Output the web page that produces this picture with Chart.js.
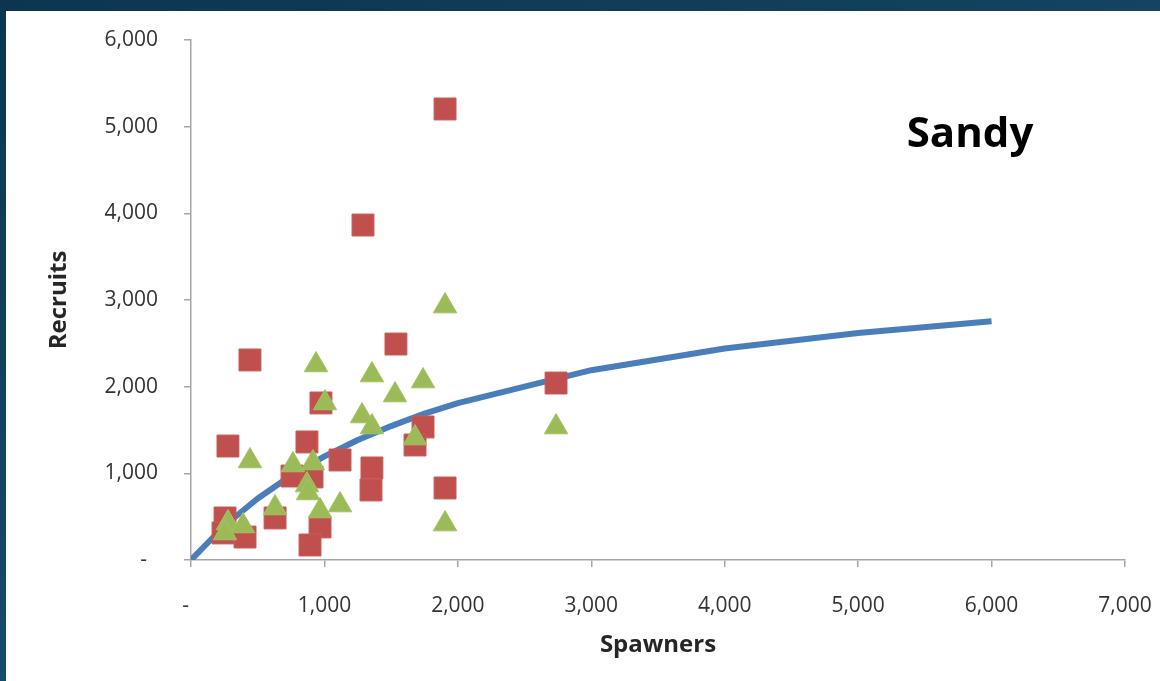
<!DOCTYPE html>
<html>
<head>
<meta charset="utf-8">
<script src="https://cdn.jsdelivr.net/npm/chart.js@4/dist/chart.umd.min.js"></script>
<style>
  html, body { margin: 0; padding: 0; }
  body {
    width: 1160px; height: 681px; overflow: hidden;
    background: linear-gradient(160deg, #0c3550 0%, #164a68 55%, #1b5a7c 100%);
    position: relative;
  }
  #panel {
    position: absolute; left: 6px; top: 11px; width: 1154px; height: 670px;
    background: #ffffff;
  }
  canvas { display: block; }
</style>
</head>
<body>
<div id="panel"><canvas id="chart" width="1154" height="670"></canvas></div>
<script>
// Fitted spawner-recruit curve
const curveSpawners = [0, 250, 500, 750, 1000, 1250, 1500, 1750, 2000, 3000, 4000, 5000, 6000];
const curveRecruits = [0, 395, 710, 975, 1195, 1385, 1545, 1690, 1810, 2190, 2440, 2620, 2755];

// Observed brood years, first group (squares)
const groupASpawners = [1904, 1289, 1536, 442, 2736, 974, 277, 869, 1739, 1679, 1117,
                        1356, 1349, 1904, 757, 907, 630, 255, 240, 405, 967, 892];
const groupARecruits = [5204, 3865, 2492, 2308, 2042, 1812, 1315, 1362, 1535, 1327, 1154,
                        1062, 808, 831, 969, 958, 485, 485, 312, 265, 381, 173];

// Observed brood years, second group (triangles)
const groupBSpawners = [1904, 937, 1356, 1529, 1739, 1004, 1282, 1356, 2736, 442, 764,
                        914, 1679, 869, 877, 967, 1117, 630, 277, 390, 255, 1904];
const groupBRecruits = [2930, 2250, 2134, 1903, 2065, 1811, 1661, 1534, 1534, 1142, 1096,
                        1119, 1407, 865, 773, 565, 634, 600, 427, 392, 311, 415];

// Axis ticks
const xTicks = [0, 1000, 2000, 3000, 4000, 5000, 6000, 7000];
const yTicks = [0, 1000, 2000, 3000, 4000, 5000, 6000];

const chartTitle = 'Sandy';
const xTitle = 'Spawners';
const yTitle = 'Recruits';

const toPoints = (xs, ys) => xs.map((x, i) => ({ x: x, y: ys[i] }));
const fmt = v => v === 0 ? '-  ' : v.toLocaleString('en-US');

const axisColor = '#a6a6a6';
const labelColor = '#333333';
const fontFamily = '"Open Sans", "Liberation Sans", sans-serif';

// Text box with the stock name
const stockLabel = {
  id: 'stockLabel',
  afterDraw(chart) {
    const ctx = chart.ctx;
    ctx.save();
    ctx.fillStyle = '#000000';
    ctx.font = 'bold 42px ' + fontFamily;
    ctx.textAlign = 'center';
    ctx.textBaseline = 'alphabetic';
    ctx.fillText(chartTitle, 964, 136);
    ctx.restore();
  }
};

new Chart(document.getElementById('chart'), {
  type: 'scatter',
  data: {
    datasets: [
      {
        type: 'line',
        label: 'Curve',
        data: toPoints(curveSpawners, curveRecruits),
        borderColor: '#4a7ebb',
        borderWidth: 6,
        borderJoinStyle: 'round',
        pointRadius: 0,
        fill: false,
        tension: 0,
        order: 3
      },
      {
        label: 'Group A',
        data: toPoints(groupASpawners, groupARecruits),
        pointStyle: 'rect',
        pointRadius: 15.5,
        backgroundColor: '#c0504d',
        borderColor: '#c85a57',
        borderWidth: 1,
        order: 2
      },
      {
        label: 'Group B',
        data: toPoints(groupBSpawners, groupBRecruits),
        pointStyle: 'triangle',
        pointRadius: 13.5,
        backgroundColor: '#9bbb59',
        borderColor: '#a3c263',
        borderWidth: 1,
        order: 1
      }
    ]
  },
  options: {
    responsive: false,
    animation: false,
    events: [],
    layout: { padding: { top: 29, right: 35, left: 0, bottom: 0 } },
    plugins: {
      legend: { display: false },
      tooltip: { enabled: false }
    },
    scales: {
      x: {
        type: 'linear',
        min: 0, max: 7000,
        afterFit: s => { s.height = 121; s.paddingLeft = 0; s.paddingRight = 0; },
        afterBuildTicks: s => { s.ticks = xTicks.map(v => ({ value: v })); },
        ticks: {
          callback: fmt,
          color: labelColor,
          font: { family: fontFamily, size: 21 },
          padding: 26,
          maxRotation: 0,
          autoSkip: false
        },
        grid: { drawOnChartArea: false, color: axisColor, tickLength: 7, lineWidth: 1.5 },
        border: { color: axisColor, width: 1.5 },
        title: {
          display: true, text: xTitle, color: '#262626',
          font: { family: fontFamily, size: 24, weight: 'bold' },
          padding: { top: 0, bottom: 21 }
        }
      },
      y: {
        type: 'linear',
        min: 0, max: 6000,
        afterFit: s => { s.width = 185; s.paddingTop = 0; s.paddingBottom = 0; },
        afterBuildTicks: s => { s.ticks = yTicks.map(v => ({ value: v })); },
        ticks: {
          callback: fmt,
          color: labelColor,
          font: { family: fontFamily, size: 21 },
          padding: 26,
          autoSkip: false
        },
        grid: { drawOnChartArea: false, color: axisColor, tickLength: 7, lineWidth: 1.5 },
        border: { color: axisColor, width: 1.5 },
        title: {
          display: true, text: yTitle, color: '#262626',
          font: { family: fontFamily, size: 24, weight: 'bold' },
          padding: { top: 39, bottom: 0 }
        }
      }
    }
  },
  plugins: [stockLabel]
});
</script>
</body>
</html>
